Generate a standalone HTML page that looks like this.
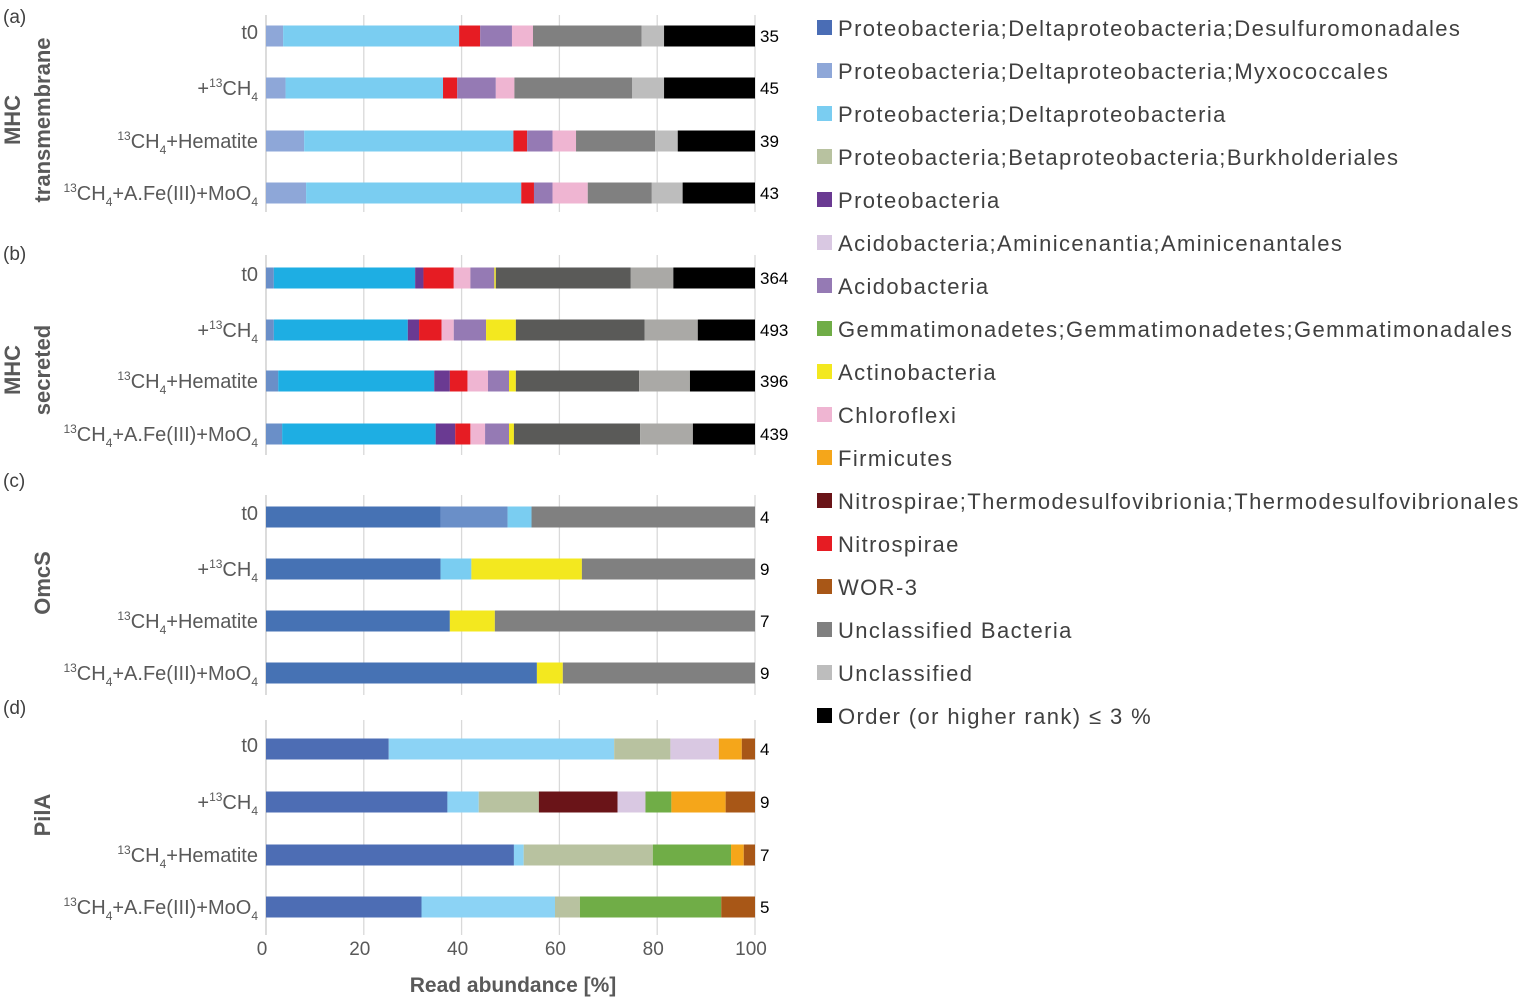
<!DOCTYPE html>
<html><head><meta charset="utf-8"><style>
html,body{margin:0;padding:0;background:#fff;}
svg{display:block;font-family:"Liberation Sans",sans-serif;}
</style></head><body>
<svg id="chart" width="1527" height="997" viewBox="0 0 1527 997" xmlns="http://www.w3.org/2000/svg"></svg>
<script>
// ---- data ----
const legendNames = ["Proteobacteria;Deltaproteobacteria;Desulfuromonadales","Proteobacteria;Deltaproteobacteria;Myxococcales","Proteobacteria;Deltaproteobacteria","Proteobacteria;Betaproteobacteria;Burkholderiales","Proteobacteria","Acidobacteria;Aminicenantia;Aminicenantales","Acidobacteria","Gemmatimonadetes;Gemmatimonadetes;Gemmatimonadales","Actinobacteria","Chloroflexi","Firmicutes","Nitrospirae;Thermodesulfovibrionia;Thermodesulfovibrionales","Nitrospirae","WOR-3","Unclassified Bacteria","Unclassified","Order (or higher rank) \u2264 3 %"];
const treatments = ["t0","+13CH4","13CH4+Hematite","13CH4+A.Fe(III)+MoO4"];
const ticks = [0,20,40,60,80,100];
// panel (a)
const catsA = [1,2,12,6,9,14,15,16];
const valsA = [[3.5,36,4.3,6.5,4.3,22.2,4.6,18.6],[4.0,32.2,2.9,7.9,3.8,24.1,6.5,18.6],[7.8,42.8,2.8,5.2,4.8,16.2,4.6,15.8],[8.2,44,2.6,3.8,7.2,13.1,6.3,14.8]];
const countsA = [35,45,39,43];
// panel (b)
const catsB = [1,2,4,12,9,6,8,14,15,16];
const valsB = [[1.6,28.9,1.7,6.2,3.4,4.9,0.3,27.6,8.7,16.7],[1.6,27.4,2.3,4.6,2.5,6.6,6.1,26.3,10.9,11.7],[2.5,31.9,3.2,3.6,4.2,4.3,1.4,25.2,10.4,13.3],[3.3,31.4,4.0,3.1,3.0,4.9,1.0,25.8,10.8,12.7]];
const countsB = [364,493,396,439];
// panel (c)
const catsC = [[0,1,2,14],[0,2,8,14],[0,8,14],[0,8,14]];
const valsC = [[35.7,13.7,4.9,45.7],[35.7,6.3,22.6,35.4],[37.6,9.2,53.2],[55.4,5.3,39.3]];
const countsC = [4,9,7,9];
// panel (d)
const catsD = [[0,2,3,5,10,13],[0,2,3,11,5,7,10,13],[0,2,3,7,10,13],[0,2,3,7,13]];
const valsD = [[25.1,46.1,11.5,9.9,4.7,2.7],[37.1,6.4,12.3,16.1,5.7,5.3,11.1,6.0],[50.7,2.0,26.4,16.0,2.6,2.3],[31.8,27.3,5.1,28.9,6.9]];
const countsD = [4,9,7,5];

// ---- styles ----
const colors = ["#4a6db5","#8ea7d8","#7acdf1","#b8c2a0","#6a3a92","#d9c8e2","#957ab4","#70ad47","#f3e81f","#efb5d2","#f5a61a","#6a1418","#e61c23","#a85717","#808080","#bdbdbd","#000000"];
const overrideB = {1:"#6a8fc8",2:"#1eaee3",14:"#5a5a58",15:"#aaa9a6"};
const overrideC = {0:"#4672b4",1:"#6a8fc8"};
const overrideD = {0:"#4d6db4",2:"#8cd3f5"};

const NS="http://www.w3.org/2000/svg";
const svg=document.getElementById('chart');
function mk(tag,attrs,parent){const e=document.createElementNS(NS,tag);for(const k in attrs)e.setAttribute(k,attrs[k]);(parent||svg).appendChild(e);return e;}
const X0=266,X1=755;
function xs(v){return X0+(X1-X0)*v/100;}

const panels=[
 {id:"a",top:15,bottom:212,rows:[36,88,141,193],cats:valsA.map(()=>catsA),vals:valsA,counts:countsA,ov:{},lab:"(a)",labY:15,title:["MHC","transmembrane"]},
 {id:"b",top:255,bottom:455,rows:[278,330,381,434],cats:valsB.map(()=>catsB),vals:valsB,counts:countsB,ov:overrideB,lab:"(b)",labY:252,title:["MHC","secreted"]},
 {id:"c",top:495,bottom:695,rows:[517,569,621,673],cats:catsC,vals:valsC,counts:countsC,ov:overrideC,lab:"(c)",labY:479,title:["OmcS"]},
 {id:"d",top:720,bottom:935,rows:[749,802,855,907],cats:catsD,vals:valsD,counts:countsD,ov:overrideD,lab:"(d)",labY:706,title:["PilA"]}
];
const titleCY={a:120,b:370,c:583,d:815};

panels.forEach(p=>{
  const g=mk('g',{});
  
  
  ticks.forEach(t=>{
    const l=mk('line',{x1:xs(t),x2:xs(t),y1:p.top,y2:p.bottom,stroke:t===0?'#c8c8c8':'#d9d9d9','stroke-width':1.3},g);
    
    
  });
  const pl=mk('text',{x:3,y:p.labY+8,'font-size':19,fill:'#404040'},g);pl.textContent=p.lab;
  
  
  const cy=titleCY[p.id];
  p.title.forEach((t,i)=>{
    const n=p.title.length;
    const x = n===2 ? (i===0?20:50) : 50;
    const tt=mk('text',{x:x,y:cy,'font-size':22,'font-weight':'bold',fill:'#595959','text-anchor':'middle',transform:`rotate(-90 ${x} ${cy})`},g);
    tt.textContent=t;
    
    
  });
  p.rows.forEach((cy,r)=>{
    const tr=treatments[r];
    const base = tr==="t0" ? cy+3 : cy+7;
    const lab=mk('text',{x:258,y:base,'font-size':20,fill:'#595959','text-anchor':'end'},g);
    
    
    if(tr==="t0"){lab.textContent="t0";}
    else{
      const parts = tr==="+13CH4"?[["+",0],["13",1],["CH",0],["4",2]]:
        tr==="13CH4+Hematite"?[["13",1],["CH",0],["4",2],["+Hematite",0]]:
        [["13",1],["CH",0],["4",2],["+A.Fe(III)+MoO",0],["4",2]];
      let cur=0;
      parts.forEach(([s,k])=>{
        const target = k===1? -8 : k===2? 6 : 0;
        const ts=mk('tspan',{dy:target-cur},lab);ts.textContent=s;
        if(k!==0) ts.setAttribute('font-size',12);
        cur=target;
      });
    }
    let acc=0;
    p.vals[r].forEach((v,j)=>{
      const c=p.cats[r][j];
      const col=(p.ov[c]!==undefined)?p.ov[c]:colors[c];
      const rc=mk('rect',{x:xs(acc),y:cy-10.5,width:xs(acc+v)-xs(acc),height:21,fill:col},g);
      
      
      acc+=v;
    });
    const ct=mk('text',{x:760,y:cy+6,'font-size':17,fill:'#000'},g);
    ct.textContent=p.counts[r];
    
    
  });
});
ticks.forEach(t=>{
  const tl=mk('text',{x:xs(t)-4,y:955,'font-size':19,fill:'#595959','text-anchor':'middle'});
  tl.textContent=t;
  
  
});
const xt=mk('text',{x:513,y:992,'font-size':21,'font-weight':'bold',fill:'#595959','text-anchor':'middle'});
xt.textContent="Read abundance [%]";


legendNames.forEach((n,i)=>{
  const y=28+i*43;
  const g=mk('g',{});
  
  
  mk('rect',{x:817,y:y-8,width:15,height:15,fill:colors[i]},g);
  const t=mk('text',{x:838,y:y+8,'font-size':22,fill:'#404040','letter-spacing':'1.4'},g);
  t.textContent=n;
});
</script>
</body></html>
